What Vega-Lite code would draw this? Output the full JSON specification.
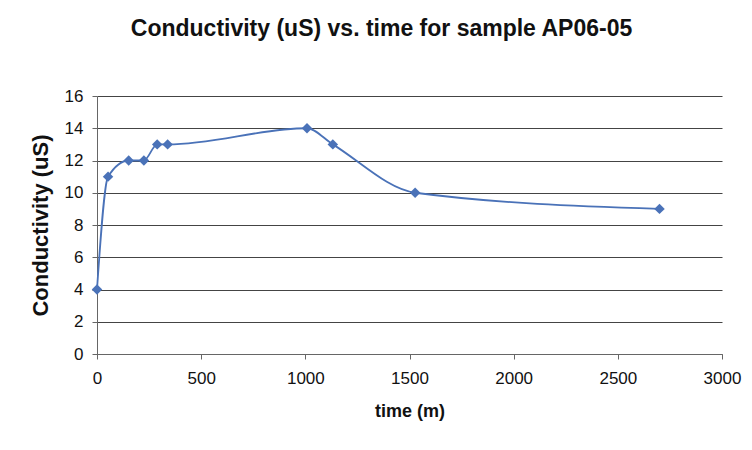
{
  "$schema": "https://vega.github.io/schema/vega-lite/v6.json",
  "autosize": "none",
  "width": 625,
  "height": 258,
  "padding": {"left": 97, "top": 96, "right": 30, "bottom": 96},
  "background": "white",
  "title": {"text": "Conductivity (uS) vs. time for sample AP06-05", "font": "Liberation Sans", "fontSize": 23, "fontWeight": "bold", "color": "#111", "offset": 46, "dx": -28},
  "config": {"view": {"stroke": null}},
  "data": {"values": [
    {"time": 0, "cond": 4},
    {"time": 53, "cond": 11},
    {"time": 152, "cond": 12},
    {"time": 225, "cond": 12},
    {"time": 289, "cond": 13},
    {"time": 339, "cond": 13},
    {"time": 1008, "cond": 14},
    {"time": 1132, "cond": 13},
    {"time": 1527, "cond": 10},
    {"time": 2700, "cond": 9}
  ]},
  "encoding": {
    "x": {"field": "time", "type": "quantitative", "scale": {"domain": [0, 3000], "nice": false},
      "axis": {"title": "time (m)", "values": [0,500,1000,1500,2000,2500,3000], "format": "d", "grid": false, "labelFlush": false, "labelOverlap": false, "domainColor": "#666", "tickColor": "#666", "tickSize": 5,
        "labelFont": "Liberation Sans", "labelFontSize": 17, "labelColor": "#111", "labelPadding": 11,
        "titleFont": "Liberation Sans", "titleFontSize": 18, "titleFontWeight": "bold", "titleColor": "#111", "titlePadding": 16}},
    "y": {"field": "cond", "type": "quantitative", "scale": {"domain": [0, 16], "nice": false},
      "axis": {"title": "Conductivity (uS)", "values": [0,2,4,6,8,10,12,14,16], "grid": true, "labelFlush": false, "gridColor": "#444", "gridWidth": 1, "domainColor": "#666", "tickColor": "#666", "tickSize": 5,
        "labelFont": "Liberation Sans", "labelFontSize": 17, "labelColor": "#111", "labelPadding": 9,
        "titleFont": "Liberation Sans", "titleFontSize": 22, "titleFontWeight": "bold", "titleColor": "#111", "titlePadding": 12}}
  },
  "layer": [
    {"mark": {"type": "line", "interpolate": "monotone", "color": "#4a72b8", "strokeWidth": 1.8}},
    {"mark": {"type": "point", "shape": "diamond", "filled": true, "size": 110, "color": "#4a72b8", "opacity": 1}}
  ]
}
